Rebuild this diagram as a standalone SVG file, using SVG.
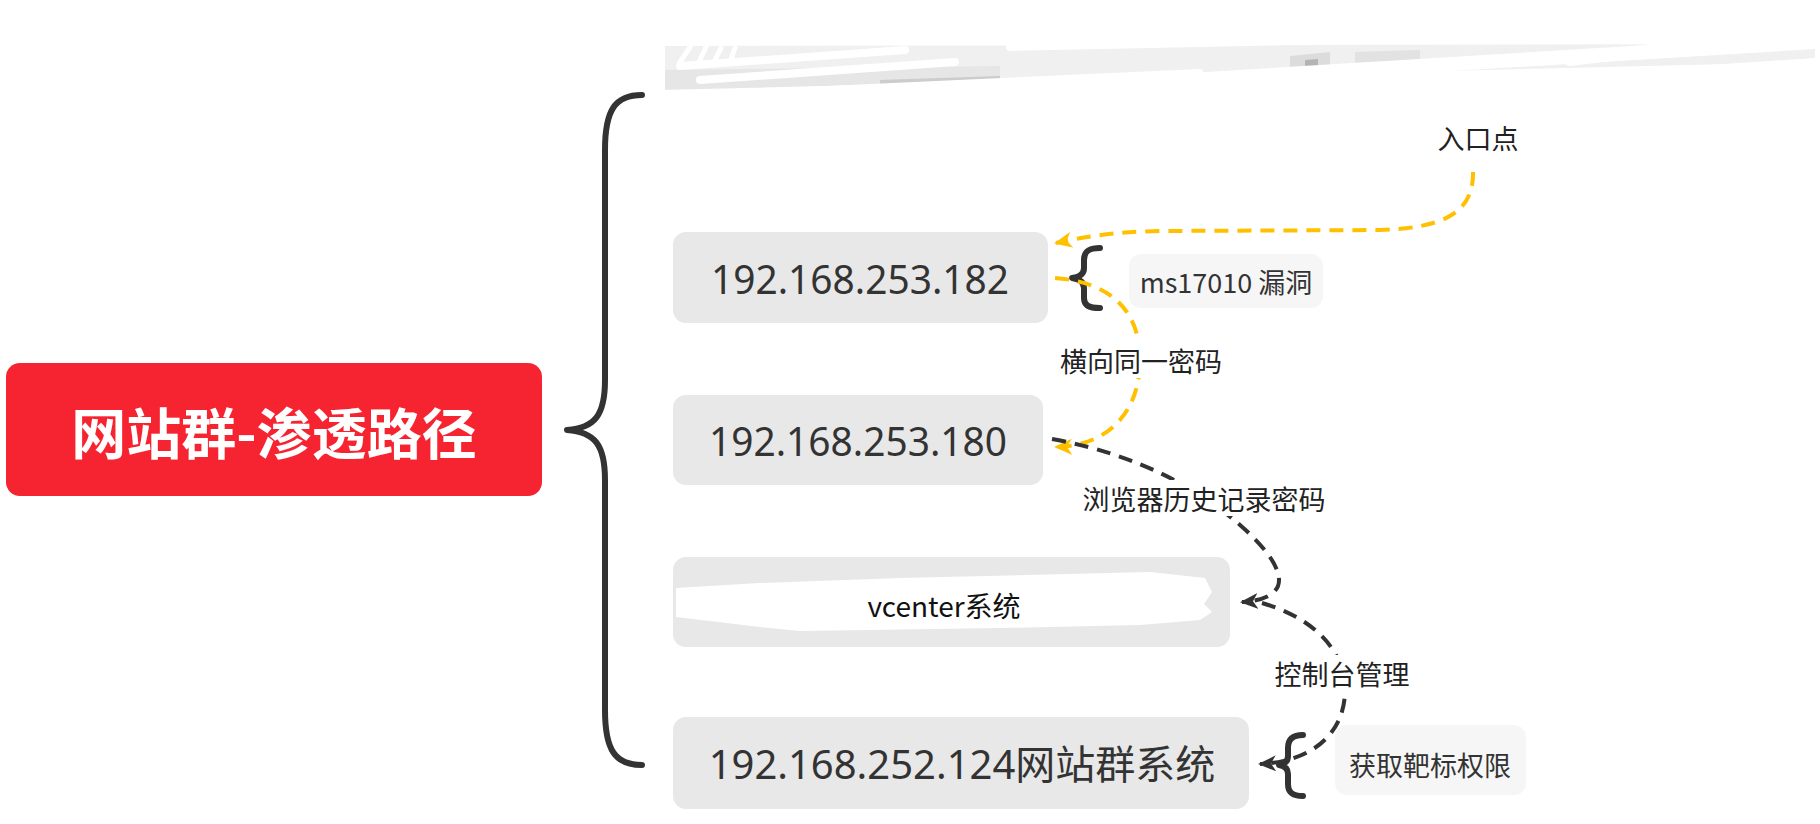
<svg xmlns="http://www.w3.org/2000/svg" width="1820" height="824" viewBox="0 0 1820 824">
<defs>
<style>
.node{fill:#e8e8e8}
.sub{fill:#f6f6f6}
.ntext{font-family:"Noto Sans","Noto Sans CJK SC",sans-serif;font-size:40px;fill:#333;text-anchor:middle;dominant-baseline:central}
.lbl{font-family:"Noto Sans CJK SC","Noto Sans",sans-serif;font-size:27px;fill:#222;text-anchor:middle;dominant-baseline:central}
.brace{fill:none;stroke:#333;stroke-width:6;stroke-linecap:round;stroke-linejoin:round}
.ydash{fill:none;stroke:#FFC000;stroke-width:4;stroke-dasharray:14 9}
.bdash{fill:none;stroke:#333;stroke-width:4;stroke-dasharray:14 9}
.lblbg{fill:#fff}
.scrib{fill:none;stroke:#fff;stroke-linecap:round}
</style>
<marker id="ay" viewBox="0 0 18 16" refX="16" refY="8" markerWidth="18" markerHeight="16" markerUnits="userSpaceOnUse" orient="auto">
<path d="M0,0 L18,8 L0,16 L5,8 z" fill="#FFC000"/>
</marker>
<marker id="ab" viewBox="0 0 18 16" refX="16" refY="8" markerWidth="18" markerHeight="16" markerUnits="userSpaceOnUse" orient="auto">
<path d="M0,0 L18,8 L0,16 L5,8 z" fill="#333"/>
</marker>
</defs>
<rect width="1820" height="824" fill="#fff"/>

<g id="root">
<rect x="6" y="363" width="536" height="133" rx="14" fill="#f62431"/>
<text x="274" y="430" font-family="Noto Sans CJK SC,Noto Sans,sans-serif" font-size="55" font-weight="bold" fill="#fff" text-anchor="middle" dominant-baseline="central">网站群-渗透路径</text>
</g>

<g id="main-brace">
<path class="brace" d="M642,95 C615,95 605,110 605,150 L605,380 C605,415 595,428 567,430 C595,432 605,445 605,480 L605,710 C605,750 615,765 642,765"/>
</g>

<g id="redacted-top">
<polygon points="665,46 1815,44 1815,58 1480,80 1000,90 665,96" fill="#f0f0f0"/>
<polygon points="665,70 1000,66 1000,88 665,94" fill="#e6e6e6"/>
<polygon points="1290,56 1330,52 1330,72 1290,76" fill="#dcdcdc"/>
<polygon points="1305,60 1318,59 1318,74 1305,75" fill="#b4b4b4"/>
<polygon points="1355,52 1420,50 1420,62 1355,66" fill="#e2e2e2"/>
<polygon points="880,80 1000,76 1000,80 880,85" fill="#cccccc"/>
<polygon points="1460,80 1540,75 1540,78 1460,83" fill="#cccccc"/>
<g class="scrib">
<path d="M660,112 L1815,42" stroke-width="14"/>
<path d="M680,66 L905,50" stroke-width="8"/>
<path d="M700,80 L955,62" stroke-width="8"/>
<path d="M760,92 L1200,72" stroke-width="6"/>
<path d="M660,100 L1815,72" stroke-width="20"/>
<path d="M660,124 L1815,92" stroke-width="30"/>
<path d="M1010,47 L1815,30" stroke-width="8"/>
<path d="M1570,60 L1815,30" stroke-width="12"/>
<path d="M680,62 L690,47 M698,64 L706,47 M714,62 L721,48 M730,62 L735,48" stroke-width="5"/>
</g>
</g>

<g id="n1">
<rect class="node" x="673" y="232" width="375" height="91" rx="13"/>
<text class="ntext" x="860" y="278" textLength="298" lengthAdjust="spacingAndGlyphs">192.168.253.182</text>
</g>

<g id="n2">
<rect class="node" x="673" y="395" width="370" height="90" rx="13"/>
<text class="ntext" x="858" y="440" textLength="298" lengthAdjust="spacingAndGlyphs">192.168.253.180</text>
</g>

<g id="n3">
<rect class="node" x="673" y="557" width="557" height="90" rx="13"/>
<polygon points="676,588 760,583 900,578 1150,572 1205,578 1212,592 1204,604 1212,612 1200,620 1140,625 1000,628 800,631 760,627 676,617" fill="#fff"/>
<text x="944" y="605" font-family="Noto Sans CJK SC,Noto Sans,sans-serif" font-size="28" fill="#111" text-anchor="middle" dominant-baseline="central">vcenter系统</text>
</g>

<g id="n4">
<rect class="node" x="673" y="717" width="576" height="92" rx="13"/>
<text class="ntext" x="962" y="763">192.168.252.124网站群系统</text>
</g>

<g id="b1">
<path class="brace" d="M1100,248 C1088,248 1084,252 1084,260 L1084,268 C1084,274 1080,277 1072,278 C1080,279 1084,282 1084,288 L1084,298 C1084,305 1088,308 1100,308"/>
</g>

<g id="n5">
<rect class="sub" x="1129" y="254" width="194" height="54" rx="12"/>
<text class="lbl" x="1226" y="281" style="fill:#333">ms17010 漏洞</text>
</g>

<g id="b2">
<path class="brace" d="M1303,735 C1292,735 1288,740 1288,748 L1288,756 C1288,761 1285,764 1279,765 C1285,766 1288,769 1288,774 L1288,784 C1288,792 1292,796 1303,796"/>
</g>

<g id="n6">
<rect class="sub" x="1335" y="725" width="191" height="70" rx="12"/>
<text class="lbl" x="1430" y="764" style="fill:#333">获取靶标权限</text>
</g>

<g id="connectors">
<path class="ydash" d="M1473,172 C1474,215 1440,228 1380,230 L1160,231 C1110,232 1085,237 1056,243" marker-end="url(#ay)"/>
<path class="ydash" d="M1055,278 C1110,282 1140,310 1140,360 C1140,410 1110,446 1056,447" marker-end="url(#ay)"/>
<path class="bdash" d="M1052,439 C1140,455 1200,490 1240,525 C1280,560 1302,598 1242,602" marker-end="url(#ab)"/>
<path class="bdash" d="M1262,603 C1320,620 1345,655 1345,690 C1345,735 1310,762 1260,764" marker-end="url(#ab)"/>
<rect class="lblbg" x="1056" y="342" width="170" height="36"/>
<rect class="lblbg" x="1077" y="480" width="254" height="36"/>
<rect class="lblbg" x="1271" y="655" width="142" height="36"/>
<text class="lbl" x="1478" y="137">入口点</text>
<text class="lbl" x="1141" y="360">横向同一密码</text>
<text class="lbl" x="1204" y="498">浏览器历史记录密码</text>
<text class="lbl" x="1342" y="673">控制台管理</text>
</g>
</svg>
